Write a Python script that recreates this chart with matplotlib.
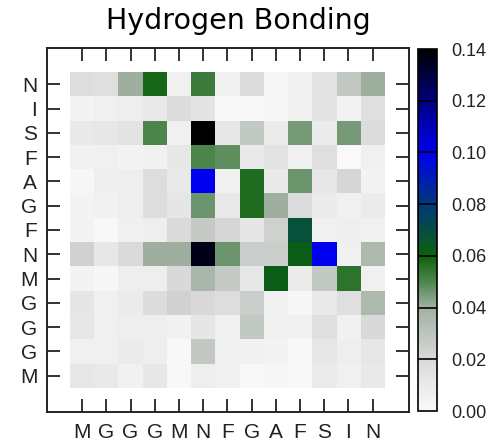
import numpy as np
import matplotlib
matplotlib.use('Agg')
import matplotlib.pyplot as plt
from matplotlib.colors import LinearSegmentedColormap

# --- DATA ---
col_labels = ['M', 'G', 'G', 'G', 'M', 'N', 'F', 'G', 'A', 'F', 'S', 'I', 'N']
row_labels = ['N', 'I', 'S', 'F', 'A', 'G', 'F', 'N', 'M', 'G', 'G', 'G', 'M']

# rows listed top to bottom, as in the picture
row_N1 = [0.017, 0.016, 0.040, 0.058, 0.006, 0.053, 0.006, 0.018, 0.002, 0.006, 0.014, 0.028, 0.040]
row_I = [0.004, 0.006, 0.007, 0.010, 0.018, 0.013, 0.001, 0.001, 0.002, 0.005, 0.014, 0.004, 0.016]
row_S = [0.010, 0.011, 0.014, 0.050, 0.006, 0.140, 0.011, 0.028, 0.009, 0.045, 0.009, 0.045, 0.018]
row_F1 = [0.005, 0.006, 0.004, 0.005, 0.011, 0.050, 0.048, 0.010, 0.014, 0.006, 0.016, 0.000, 0.006]
row_A = [0.002, 0.007, 0.007, 0.017, 0.010, 0.100, 0.006, 0.057, 0.010, 0.046, 0.011, 0.021, 0.004]
row_G1 = [0.004, 0.005, 0.007, 0.017, 0.012, 0.046, 0.010, 0.057, 0.040, 0.018, 0.009, 0.005, 0.009]
row_F2 = [0.004, 0.001, 0.006, 0.007, 0.019, 0.027, 0.021, 0.012, 0.024, 0.068, 0.005, 0.007, 0.005]
row_N2 = [0.023, 0.011, 0.019, 0.040, 0.040, 0.136, 0.046, 0.025, 0.025, 0.062, 0.100, 0.006, 0.035]
row_M1 = [0.004, 0.002, 0.007, 0.007, 0.020, 0.037, 0.027, 0.011, 0.062, 0.009, 0.028, 0.055, 0.006]
row_G2 = [0.012, 0.006, 0.009, 0.018, 0.023, 0.020, 0.017, 0.025, 0.005, 0.002, 0.010, 0.016, 0.035]
row_G3 = [0.011, 0.006, 0.007, 0.007, 0.005, 0.012, 0.006, 0.028, 0.006, 0.005, 0.016, 0.005, 0.020]
row_G4 = [0.006, 0.006, 0.009, 0.007, 0.001, 0.028, 0.006, 0.005, 0.004, 0.001, 0.011, 0.007, 0.011]
row_M2 = [0.011, 0.010, 0.005, 0.011, 0.001, 0.007, 0.005, 0.001, 0.002, 0.001, 0.009, 0.006, 0.010]

matrix = np.array([row_N1, row_I, row_S, row_F1, row_A, row_G1, row_F2,
                   row_N2, row_M1, row_G2, row_G3, row_G4, row_M2])

# --- COLORMAP: white -> gray -> green -> blue -> black ---
vmax = 0.14
anchors = [
    (0.00, (0.98, 0.98, 0.98)),
    (0.02, (0.85, 0.85, 0.85)),
    (0.04, (0.63, 0.69, 0.63)),
    (0.05, (0.30, 0.52, 0.30)),
    (0.06, (0.05, 0.38, 0.05)),
    (0.08, (0.00, 0.22, 0.48)),
    (0.10, (0.00, 0.00, 0.95)),
    (0.12, (0.00, 0.00, 0.50)),
    (0.14, (0.00, 0.00, 0.00)),
]
cmap = LinearSegmentedColormap.from_list('hbond', [(v / vmax, c) for v, c in anchors])

# --- PLOT ---
fig = plt.figure(figsize=(4.97, 4.41), dpi=100)
ax = fig.add_axes([47 / 497, 1 - 412 / 441, 362 / 497, 364 / 441])
cax = fig.add_axes([418 / 497, 1 - 411 / 441, 19 / 497, 362 / 441])

n = len(col_labels)
im = ax.imshow(matrix, cmap=cmap, vmin=0, vmax=vmax, interpolation='nearest',
               aspect='auto', extent=(-0.5, n - 0.5, n - 0.5, -0.5))
ax.set_xlim(-1.45, n + 0.5)
ax.set_ylim(n + 0.5, -1.5)

ax.set_xticks(range(n))
ax.set_xticklabels(col_labels)
ax.set_yticks(range(n))
ax.set_yticklabels(row_labels)
ax.tick_params(direction='in', length=9.5, width=1.3, top=True, right=True,
               labelsize=15, pad=7, colors='#222222')
ax.tick_params(axis='x', pad=8)
for lab in ax.get_xticklabels() + ax.get_yticklabels():
    lab.set_fontfamily('Liberation Sans')
for sp in ax.spines.values():
    sp.set_linewidth(1.4)
    sp.set_color('#222222')

cb = fig.colorbar(im, cax=cax)
cb.set_ticks(np.arange(0, 0.141, 0.02))
cb.ax.set_yticklabels([f'{t:.2f}' for t in np.arange(0, 0.141, 0.02)])
cb.ax.tick_params(length=0, pad=10, labelsize=13, colors='#222222')
for lab in cb.ax.get_yticklabels():
    lab.set_fontfamily('Liberation Sans')
for t in np.arange(0.02, 0.13, 0.02):
    cb.ax.axhline(t, color='black', linewidth=1.2)
cb.outline.set_linewidth(1.2)

fig.text(238 / 497, 1 - 21 / 441, 'Hydrogen Bonding', ha='center', va='center',
         fontsize=20.5, family='DejaVu Sans')

fig.savefig('out.png', dpi=100)
